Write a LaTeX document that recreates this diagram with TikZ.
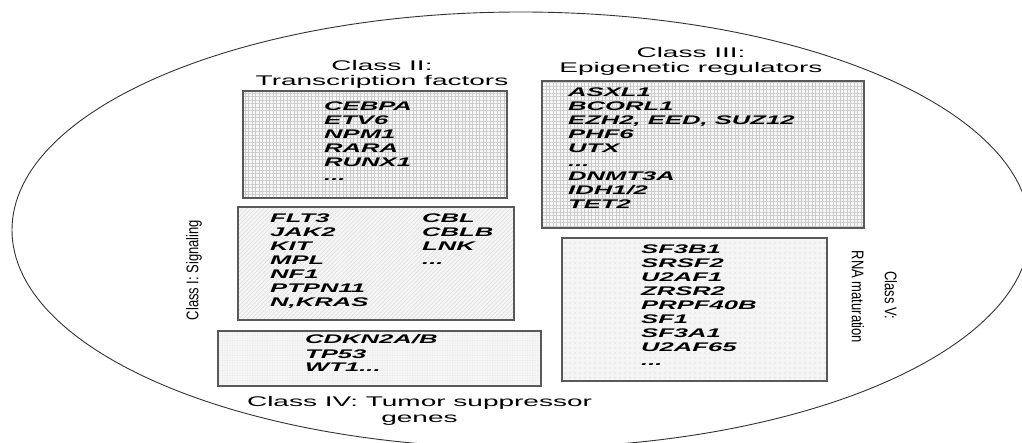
\documentclass[tikz,border=0pt]{standalone}
\usepackage{fontspec}
\setmainfont{Liberation Sans}
\usepackage{graphicx}
\usetikzlibrary{patterns.meta}
\newcommand\genelist[1]{\scalebox{2.05}[1]{\fontsize{12.5}{14}\selectfont\bfseries\itshape\begin{tabular}[t]{@{}l@{}}#1\end{tabular}}}
\newcommand\titletext[1]{\scalebox{2}[1]{\fontsize{14}{15.5}\selectfont\begin{tabular}[t]{@{}c@{}}#1\end{tabular}}}
\newcommand\sidetext[1]{\scalebox{1}[1.3]{\fontsize{13}{15}\selectfont #1}}
\tikzset{
  boxline/.style={draw=black!65, line width=1.4pt},
  gridbox/.style={boxline, preaction={fill=black!3}, preaction={pattern={Hatch[angle=0,distance=3.5pt,line width=0.35pt]}, pattern color=black!20}},
  hatchbox/.style={boxline, preaction={fill=black!4}, preaction={pattern={Lines[angle=45,distance=3pt,line width=0.35pt]}, pattern color=black!16}},
  stipplebox/.style={boxline, preaction={fill=black!4}, preaction={pattern={Dots[distance=2.5pt,radius=0.4pt]}, pattern color=black!14}},
  dotbox/.style={boxline, preaction={fill=black!4}, preaction={pattern={Dots[distance=5pt,radius=1.2pt]}, pattern color=black!9}},
  lbl/.style={inner sep=0pt, anchor=base west},
  ttl/.style={inner sep=0pt, anchor=base},
  side/.style={inner sep=0pt},
}
\begin{document}
\begin{tikzpicture}[x=1pt,y=-1pt]
\useasboundingbox (0,0) rectangle (1022,443);
\fill[white] (0,0) rectangle (1022,443);
\begin{scope}
\clip (0,0) rectangle (1022,443);
\draw[black!80, line width=0.9pt] (521,230) ellipse [x radius=509, y radius=218];
\end{scope}
% boxes
\path[gridbox] (243,91) rectangle (507,198);
\path[gridbox] (542,81) rectangle (864,228);
\path[hatchbox] (238,207) rectangle (514,320);
\path[stipplebox] (218,331) rectangle (541,386);
\path[dotbox] (562,238) rectangle (827,381);
% titles
\node[ttl] (t2) at (382,70.5) {\titletext{Class II:\\Transcription factors}};
\node[ttl] (t3) at (691,57.5) {\titletext{Class III:\\Epigenetic regulators}};
\node[ttl] (t4) at (419.5,406.5) {\titletext{Class IV: Tumor suppressor\\genes}};
\node[side, rotate=90] (t1) at (194,270) {\sidetext{Class I: Signaling}};
\node[side, rotate=-90] (t5a) at (891,295) {\sidetext{Class V:}};
\node[side, rotate=-90] (t5b) at (858,297) {\sidetext{RNA maturation}};
% gene lists
\node[lbl] (g2) at (324,110.5) {\genelist{CEBPA\\ETV6\\NPM1\\RARA\\RUNX1\\...}};
\node[lbl] (g3) at (568,96.5) {\genelist{ASXL1\\BCORL1\\EZH2, EED, SUZ12\\PHF6\\UTX\\...\\DNMT3A\\IDH1/2\\TET2}};
\node[lbl] (g1a) at (270,222.5) {\genelist{FLT3\\JAK2\\KIT\\MPL\\NF1\\PTPN11\\N,KRAS}};
\node[lbl] (g1b) at (422,222.5) {\genelist{CBL\\CBLB\\LNK\\...}};
\node[lbl] (g4) at (305,344) {\genelist{CDKN2A/B\\TP53\\WT1...}};
\node[lbl] (g5) at (641,253.5) {\genelist{SF3B1\\SRSF2\\U2AF1\\ZRSR2\\PRPF40B\\SF1\\SF3A1\\U2AF65\\...}};
\end{tikzpicture}
\end{document}
